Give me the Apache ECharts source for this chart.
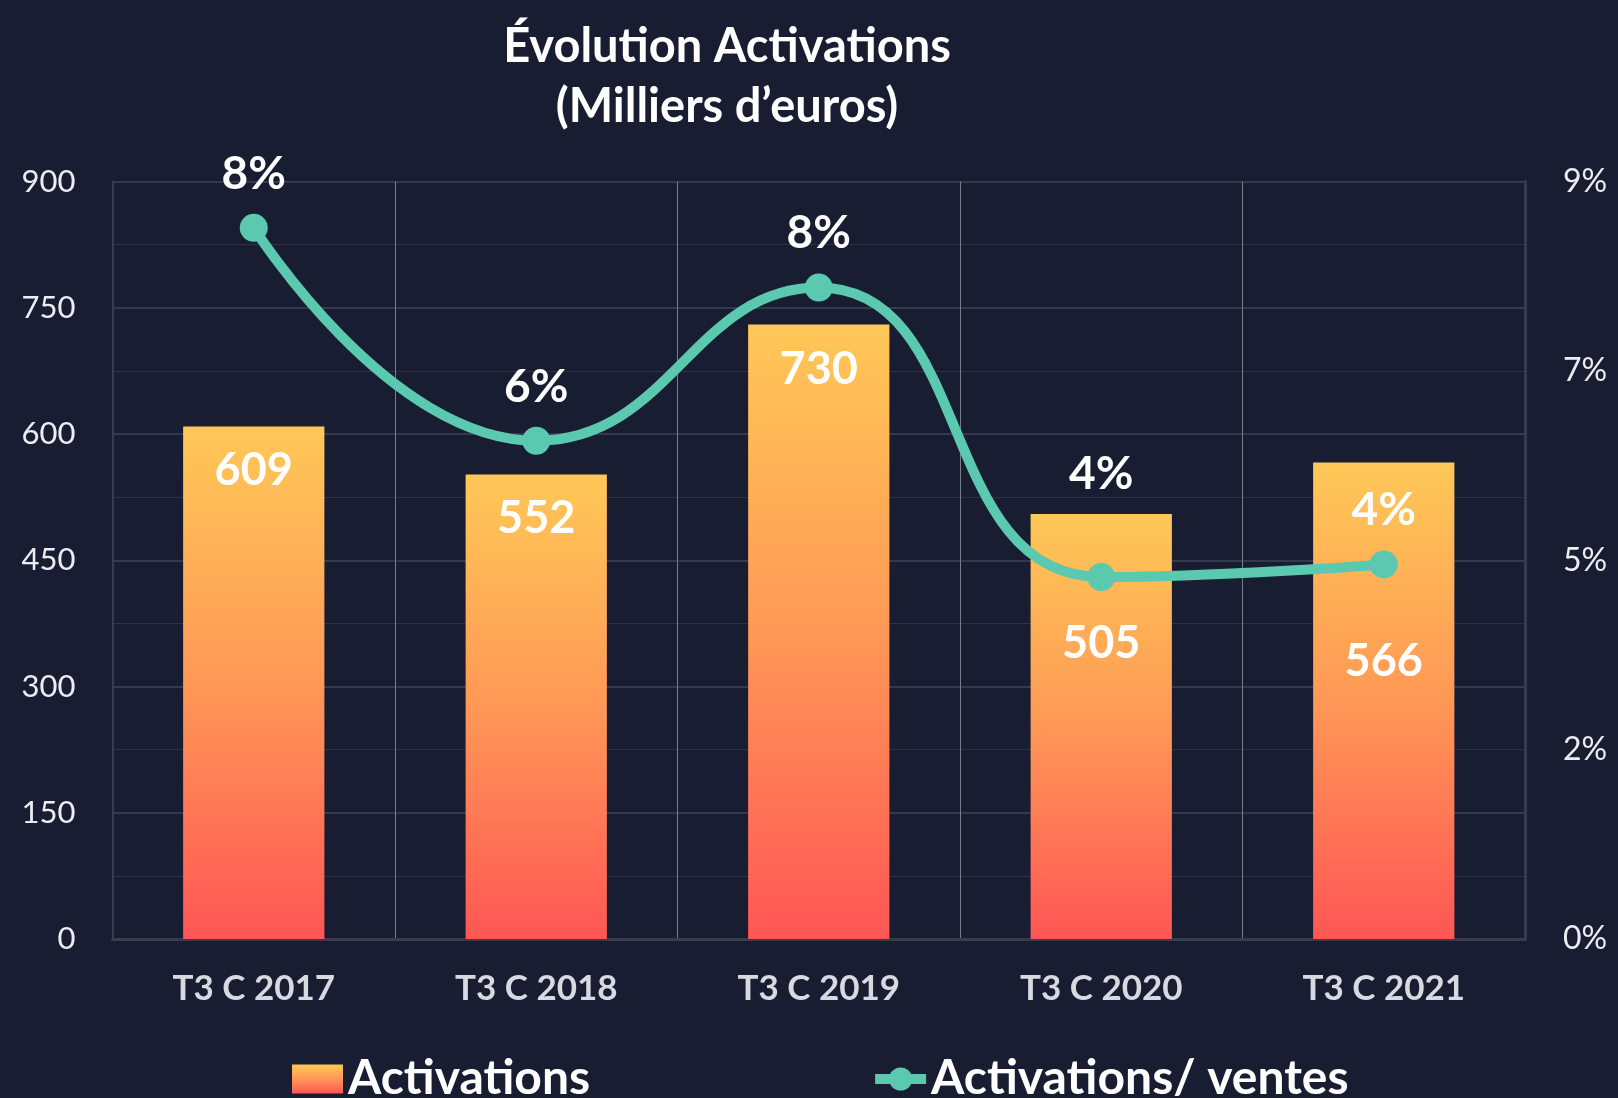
<!DOCTYPE html>
<html>
<head>
<meta charset="utf-8">
<title>Évolution Activations</title>
<script src="https://cdn.jsdelivr.net/npm/echarts@6/dist/echarts.min.js"></script>
<style>
  html, body { margin: 0; padding: 0; background: #191d31; }
  #chart { width: 1618px; height: 1098px; }
</style>
</head>
<body>
<div id="chart"></div>
<script>
// données
var categories = ['T3 C 2017', 'T3 C 2018', 'T3 C 2019', 'T3 C 2020', 'T3 C 2021'];
var activations = [609, 552, 730, 505, 566];
var ratioVentes = [8.45, 5.92, 7.74, 4.30, 4.45]; // en %

var chart = echarts.init(document.getElementById('chart'));

var barGradient = new echarts.graphic.LinearGradient(0, 0, 0, 1, [
  { offset: 0, color: '#ffc857' },
  { offset: 0.5, color: '#ff9856' },
  { offset: 1, color: '#ff5655' }
]);

// décalage des étiquettes pour éviter la courbe (2020, 2021)
var barLabelShift = [0, 0, 0, 85, 154];
var lineLabelShift = [0, 0, 0, -49, 0];

var option = {
  backgroundColor: '#191d31',
  textStyle: { fontFamily: 'Lato' },
  title: {
    text: 'Évolution Activations\n(Milliers d’euros)',
    left: 722,
    top: 12,
    textAlign: 'center',
    textStyle: {
      color: '#ffffff',
      fontSize: 47,
      fontWeight: 'bold',
      lineHeight: 60,
      fontFamily: 'Lato'
    }
  },
  legend: {
    left: 287,
    top: 1050,
    itemGap: 280,
    itemWidth: 51,
    itemHeight: 29,
    textStyle: { color: '#ffffff', fontSize: 48, fontWeight: 'bold', fontFamily: 'Lato' },
    data: [
      { name: 'Activations', icon: 'rect' },
      { name: 'Activations/ ventes', lineStyle: { width: 10 } }
    ]
  },
  grid: {
    left: 112.5,
    right: 93,
    top: 181.5,
    bottom: 159
  },
  xAxis: {
    type: 'category',
    data: categories,
    axisLine: { lineStyle: { color: '#3a3b4d', width: 3 } },
    axisTick: { show: false },
    axisLabel: {
      color: '#d9d9e2',
      fontSize: 35,
      fontWeight: 'bold',
      margin: 32,
      fontFamily: 'Lato'
    },
    splitLine: { show: true, lineStyle: { color: '#7a7c88', width: 1 } }
  },
  yAxis: [{
    type: 'value',
    min: 0,
    max: 900,
    interval: 150,
    axisLine: { show: true, lineStyle: { color: '#3a3c4e', width: 2 } },
    axisTick: { show: false },
    axisLabel: { color: '#ececf2', fontSize: 31, margin: 37, fontFamily: 'Lato' },
    splitLine: { lineStyle: { color: '#36394b', width: 2 } },
    minorTick: { show: false, splitNumber: 2 },
    minorSplitLine: { show: true, lineStyle: { color: '#2f3244', width: 1 } }
  }, {
    type: 'value',
    min: 0,
    max: 9,
    interval: 2.25,
    axisLine: { show: true, lineStyle: { color: '#363b4f', width: 3 } },
    axisTick: { show: false },
    axisLabel: {
      color: '#ececf2',
      fontSize: 32,
      margin: 38,
      fontFamily: 'Lato',
      formatter: function (v) { return Math.round(v) + '%'; }
    },
    splitLine: { show: false }
  }],
  series: [{
    name: 'Activations',
    type: 'bar',
    barWidth: '50%',
    itemStyle: { color: barGradient },
    data: activations.map(function (v, i) {
      return {
        value: v,
        label: { offset: [0, barLabelShift[i]] }
      };
    }),
    label: {
      show: true,
      position: 'insideTop',
      distance: 22,
      color: '#ffffff',
      fontSize: 45,
      fontWeight: 'bold',
      fontFamily: 'Lato'
    }
  }, {
    name: 'Activations/ ventes',
    type: 'line',
    yAxisIndex: 1,
    smooth: 0.5,
    symbol: 'circle',
    symbolSize: 28,
    lineStyle: { color: '#5bc8b0', width: 10 },
    itemStyle: { color: '#5bc8b0' },
    data: ratioVentes.map(function (v, i) {
      return {
        value: v,
        label: { offset: [0, lineLabelShift[i]] }
      };
    }),
    label: {
      show: true,
      position: 'top',
      distance: 17,
      color: '#ffffff',
      fontSize: 46,
      fontWeight: 'bold',
      fontFamily: 'Lato',
      formatter: function (p) { return Math.round(p.value) + '%'; }
    },
    z: 5
  }]
};

chart.setOption(option);
</script>
</body>
</html>
